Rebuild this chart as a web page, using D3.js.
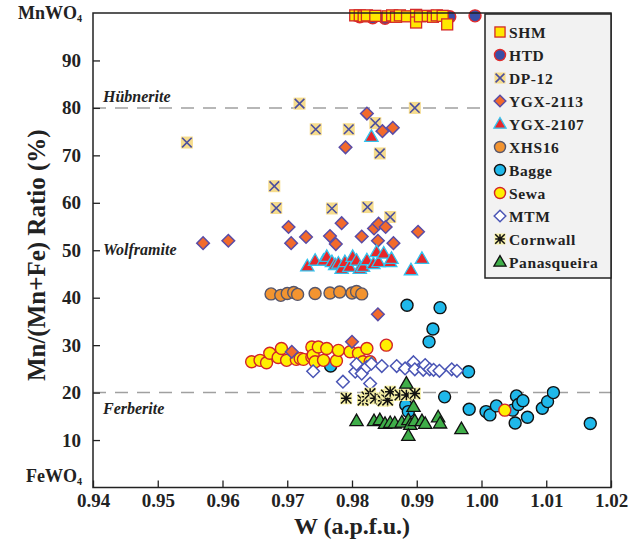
<!DOCTYPE html>
<html>
<head>
<meta charset="utf-8">
<script src="https://cdn.jsdelivr.net/npm/d3@7"></script>
<style>
  body { margin: 0; background: #fff; }
  svg text { font-family: "Liberation Serif", "Times New Roman", serif; }
</style>
</head>
<body>
<svg id="viz" width="633" height="540"></svg>
<script>
// data: [W (a.p.f.u.), Mn/(Mn+Fe) %]
const shm = [[0.9805,99.5],[0.9812,99.5],[0.9818,99.3],[0.9823,99.5],[0.9836,99.4],[0.9855,99.3],[0.9862,99.5],
  [0.9868,99.2],[0.9874,99.5],[0.9885,99.3],[0.9899,99.6],[0.9899,98.0],[0.9905,99.3],[0.9917,99.4],
  [0.9925,99.2],[0.9931,99.5],[0.9940,99.4],[0.9947,97.6]];
const htd = [[0.9812,99.2],[0.9832,99.0],[0.9851,98.9],[0.9951,99.2],[0.9990,99.4]];
const dp12 = [[0.9545,72.7],[0.9719,80.9],[0.9897,80.0],[0.9744,75.5],[0.9795,75.5],[0.9836,76.8],[0.9843,70.4],
  [0.9680,63.5],[0.9683,58.9],[0.9769,58.8],[0.9824,59.1],[0.9859,57.0]];
const ygx2113 = [[0.9823,78.8],[0.9847,75.1],[0.9863,75.8],[0.9790,71.7],[0.9570,51.5],[0.9609,52.0],[0.9702,54.9],
  [0.9706,51.5],[0.9729,52.8],[0.9766,53.0],[0.9775,51.3],[0.9784,55.7],[0.9815,52.9],[0.9834,54.6],
  [0.9841,55.6],[0.9852,54.9],[0.9840,52.0],[0.9864,51.5],[0.9902,53.9],[0.9840,36.5],[0.9800,30.7],[0.9707,28.6]];
const ygx2107 = [[0.9830,73.9],[0.9731,46.6],[0.9743,47.8],[0.9756,47.8],[0.9761,48.6],[0.9769,47.5],[0.9774,46.9],
  [0.9779,47.2],[0.9784,46.1],[0.9789,47.5],[0.9796,46.5],[0.9801,48.6],[0.9807,47.8],[0.9812,46.1],
  [0.9817,46.5],[0.9823,47.9],[0.9833,47.1],[0.9838,49.6],[0.9841,47.5],[0.9849,49.3],[0.9859,47.5],
  [0.9861,48.2],[0.9891,45.8],[0.9908,48.2]];
const xhs16 = [[0.9675,40.8],[0.9690,40.5],[0.9700,40.9],[0.9710,41.1],[0.9716,40.7],[0.9743,40.9],[0.9766,41.0],
  [0.9781,41.2],[0.9800,41.0],[0.9807,41.3],[0.9815,40.8]];
const bagge = [[0.9885,38.4],[0.9936,37.9],[0.9925,33.4],[0.9919,30.7],[0.9767,25.6],[0.9980,24.4],[0.9943,19.1],
  [0.9883,17.4],[0.9887,16.0],[0.9981,16.5],[1.0007,16.0],[1.0013,15.3],[1.0023,17.2],[1.0048,16.3],
  [1.0054,19.3],[1.0057,17.5],[1.0064,18.3],[1.0052,13.6],[1.0071,14.8],[1.0094,16.7],[1.0102,18.1],
  [1.0111,20.0],[1.0168,13.5]];
const sewa = [[0.9645,26.5],[0.9658,26.8],[0.9668,26.3],[0.9673,28.3],[0.9686,27.4],[0.9691,29.3],[0.9699,26.8],
  [0.9714,27.0],[0.9720,27.2],[0.9725,27.0],[0.9738,27.5],[0.9738,29.6],[0.9740,27.9],[0.9743,26.5],
  [0.9748,29.6],[0.9756,26.8],[0.9761,29.3],[0.9776,26.7],[0.9779,28.9],[0.9797,28.6],[0.9810,28.3],
  [0.9817,26.5],[0.9823,29.3],[0.9828,26.5],[0.9853,30.0],[1.0036,16.3]];
const mtm = [[0.9740,24.5],[0.9786,22.3],[0.9805,24.4],[0.9807,26.0],[0.9815,24.0],[0.9823,25.4],[0.9828,21.9],
  [0.9830,26.1],[0.9846,25.6],[0.9869,25.6],[0.9882,25.1],[0.9895,26.4],[0.9897,24.9],[0.9910,24.8],
  [0.9913,25.8],[0.9920,24.9],[0.9926,24.8],[0.9935,24.6],[0.9954,24.9],[0.9962,24.6]];
const cornwall = [[0.9791,18.8],[0.9817,18.4],[0.9823,19.1],[0.9828,19.8],[0.9836,18.8],[0.9846,18.6],[0.9848,18.3],
  [0.9853,19.5],[0.9855,18.4],[0.9859,20.2],[0.9874,19.5],[0.9884,19.5],[0.9897,19.8]];
const panasqueira = [[0.9884,21.9],[0.9895,17.0],[0.9807,14.0],[0.9834,14.0],[0.9843,14.2],[0.9851,13.4],
  [0.9859,13.6],[0.9866,13.5],[0.9877,13.7],[0.9887,14.2],[0.9890,13.2],[0.9897,14.0],[0.9908,14.0],
  [0.9913,13.4],[0.9933,14.8],[0.9936,13.5],[0.9887,10.9],[0.9969,12.3]];

const xTicks = [0.94, 0.95, 0.96, 0.97, 0.98, 0.99, 1.00, 1.01, 1.02];
const yTicks = [10, 20, 30, 40, 50, 60, 70, 80, 90];

const series = [
  { name: "SHM", data: shm, shape: "square", fill: "#ffe800", stroke: "#d42a2a" },
  { name: "HTD", data: htd, shape: "circle", fill: "#3a4ea6", stroke: "#e22a2a" },
  { name: "DP-12", data: dp12, shape: "cross", fill: "#f6dc8c", stroke: "#4b4f9e" },
  { name: "YGX-2113", data: ygx2113, shape: "diamond", fill: "#f26a2c", stroke: "#5a4ca6" },
  { name: "YGX-2107", data: ygx2107, shape: "triangle", fill: "#e8262a", stroke: "#33c2ee" },
  { name: "XHS16", data: xhs16, shape: "circle", fill: "#f39430", stroke: "#56566c" },
  { name: "Bagge", data: bagge, shape: "circle", fill: "#1fb8ea", stroke: "#111" },
  { name: "Sewa", data: sewa, shape: "circle", fill: "#fff000", stroke: "#d2232a" },
  { name: "MTM", data: mtm, shape: "diamond", fill: "#fff", stroke: "#4a55b5" },
  { name: "Cornwall", data: cornwall, shape: "star", fill: "#f6f0a6", stroke: "#111" },
  { name: "Panasqueira", data: panasqueira, shape: "triangle", fill: "#3fae49", stroke: "#111" }
];
// drawing order (back to front)
const drawOrder = ["HTD", "SHM", "DP-12", "XHS16", "Bagge", "Sewa", "YGX-2113", "MTM", "YGX-2107", "Cornwall", "Panasqueira"];

const svg = d3.select("#viz");
const x = d3.scaleLinear().domain([0.94, 1.02]).range([93, 611]);
const y = d3.scaleLinear().domain([0, 100]).range([487.5, 13]);

// marker drawing
function drawMarker(sel, s, scale = 1) {
  const k = scale;
  if (s.shape === "circle") {
    sel.append("circle").attr("r", 6 * k).attr("fill", s.fill).attr("stroke", s.stroke).attr("stroke-width", 1.4);
  } else if (s.shape === "square") {
    sel.append("rect").attr("x", -5.5 * k).attr("y", -5.5 * k).attr("width", 11 * k).attr("height", 11 * k)
      .attr("fill", s.fill).attr("stroke", s.stroke).attr("stroke-width", 1.3);
  } else if (s.shape === "diamond") {
    const r = 6.3 * k;
    sel.append("path").attr("d", `M0,${-r}L${r},0L0,${r}L${-r},0Z`)
      .attr("fill", s.fill).attr("stroke", s.stroke).attr("stroke-width", 1.5);
  } else if (s.shape === "triangle") {
    const r = 7 * k;
    sel.append("path").attr("d", `M0,${-r}L${r * 0.95},${r * 0.65}L${-r * 0.95},${r * 0.65}Z`)
      .attr("fill", s.fill).attr("stroke", s.stroke).attr("stroke-width", 1.3);
  } else if (s.shape === "cross") {
    const r = 6 * k, a = 4.8 * k;
    sel.append("rect").attr("x", -r).attr("y", -r).attr("width", 2 * r).attr("height", 2 * r).attr("fill", s.fill);
    sel.append("path").attr("d", `M${-a},${-a}L${a},${a}M${-a},${a}L${a},${-a}`)
      .attr("stroke", s.stroke).attr("stroke-width", 1.6);
  } else if (s.shape === "star") {
    const r = 6 * k, a = 5.2 * k;
    sel.append("rect").attr("x", -r).attr("y", -r).attr("width", 2 * r).attr("height", 2 * r).attr("fill", s.fill);
    sel.append("path").attr("d", `M${-a},${-a}L${a},${a}M${-a},${a}L${a},${-a}M0,${-a}L0,${a}M${-a},0L${a},0`)
      .attr("stroke", s.stroke).attr("stroke-width", 1.5);
  }
}

// boundary lines
[80, 20].forEach(v => {
  svg.append("line")
    .attr("x1", x(0.94)).attr("x2", x(1.02))
    .attr("y1", y(v)).attr("y2", y(v))
    .attr("stroke", "#a0a0a0").attr("stroke-width", 1.5)
    .attr("stroke-dasharray", "13,9");
});

// field labels
const fieldLabels = [["Hübnerite", 81.3], ["Wolframite", 49], ["Ferberite", 15.4]];
svg.selectAll(".field").data(fieldLabels).enter().append("text")
  .attr("x", 103).attr("y", d => y(d[1]))
  .attr("font-size", 16).attr("font-weight", "bold").attr("font-style", "italic")
  .attr("fill", "#222").text(d => d[0]);

// points
const pts = svg.append("g");
drawOrder.forEach(name => {
  const s = series.find(d => d.name === name);
  s.data.forEach(p => {
    const g = pts.append("g").attr("transform", `translate(${x(p[0])},${y(p[1])})`);
    drawMarker(g, s);
  });
});

// axes frame
svg.append("rect")
  .attr("x", x(0.94)).attr("y", y(100))
  .attr("width", x(1.02) - x(0.94)).attr("height", y(0) - y(100))
  .attr("fill", "none").attr("stroke", "#222").attr("stroke-width", 1.5);

const xAxis = svg.append("g").attr("transform", `translate(0,${y(0)})`)
  .call(d3.axisBottom(x).tickValues(xTicks).tickSizeInner(-7).tickSizeOuter(0).tickPadding(6)
    .tickFormat(d3.format(".2f")));
xAxis.select(".domain").remove();
xAxis.selectAll("line").attr("stroke", "#222").attr("stroke-width", 1.3);
xAxis.selectAll("text").attr("font-size", 19).attr("font-weight", "bold").attr("fill", "#222")
  .style("font-family", "'Liberation Serif', serif");

const yAxis = svg.append("g").attr("transform", `translate(${x(0.94)},0)`)
  .call(d3.axisLeft(y).tickValues(yTicks).tickSizeInner(-7).tickSizeOuter(0).tickPadding(12));
yAxis.select(".domain").remove();
yAxis.selectAll("line").attr("stroke", "#222").attr("stroke-width", 1.3);
yAxis.selectAll("text").attr("font-size", 19).attr("font-weight", "bold").attr("fill", "#222")
  .style("font-family", "'Liberation Serif', serif");

// end member labels
[["MnWO", y(100) + 6], ["FeWO", y(0) - 6]].forEach(d => {
  const t = svg.append("text").attr("x", 82).attr("y", d[1]).attr("text-anchor", "end")
    .attr("font-size", 18).attr("font-weight", "bold").attr("fill", "#222");
  t.append("tspan").text(d[0]);
  t.append("tspan").attr("font-size", 10).attr("dy", 3).text("4");
});

// axis titles
svg.append("text")
  .attr("transform", `translate(45,${(y(0) + y(100)) / 2 + 5}) rotate(-90)`)
  .attr("text-anchor", "middle").attr("font-size", 25).attr("font-weight", "bold").attr("fill", "#222")
  .text("Mn/(Mn+Fe) Ratio (%)");
svg.append("text")
  .attr("x", (x(0.94) + x(1.02)) / 2).attr("y", 534)
  .attr("text-anchor", "middle").attr("font-size", 24).attr("font-weight", "bold").attr("fill", "#222")
  .text("W (a.p.f.u.)");

// legend
const legend = svg.append("g");
legend.append("rect")
  .attr("x", 485).attr("y", 14).attr("width", 126).attr("height", 264)
  .attr("fill", "#f2f2f2").attr("stroke", "#222").attr("stroke-width", 1.5);
series.forEach((s, i) => {
  const row = legend.append("g").attr("transform", `translate(500,${32 + i * 23})`);
  drawMarker(row, s, 0.92);
  row.append("text").attr("x", 9).attr("y", 5.5)
    .attr("font-size", 15.5).attr("font-weight", "bold").attr("letter-spacing", 0.6).attr("fill", "#222")
    .text(s.name);
});
</script>
</body>
</html>
